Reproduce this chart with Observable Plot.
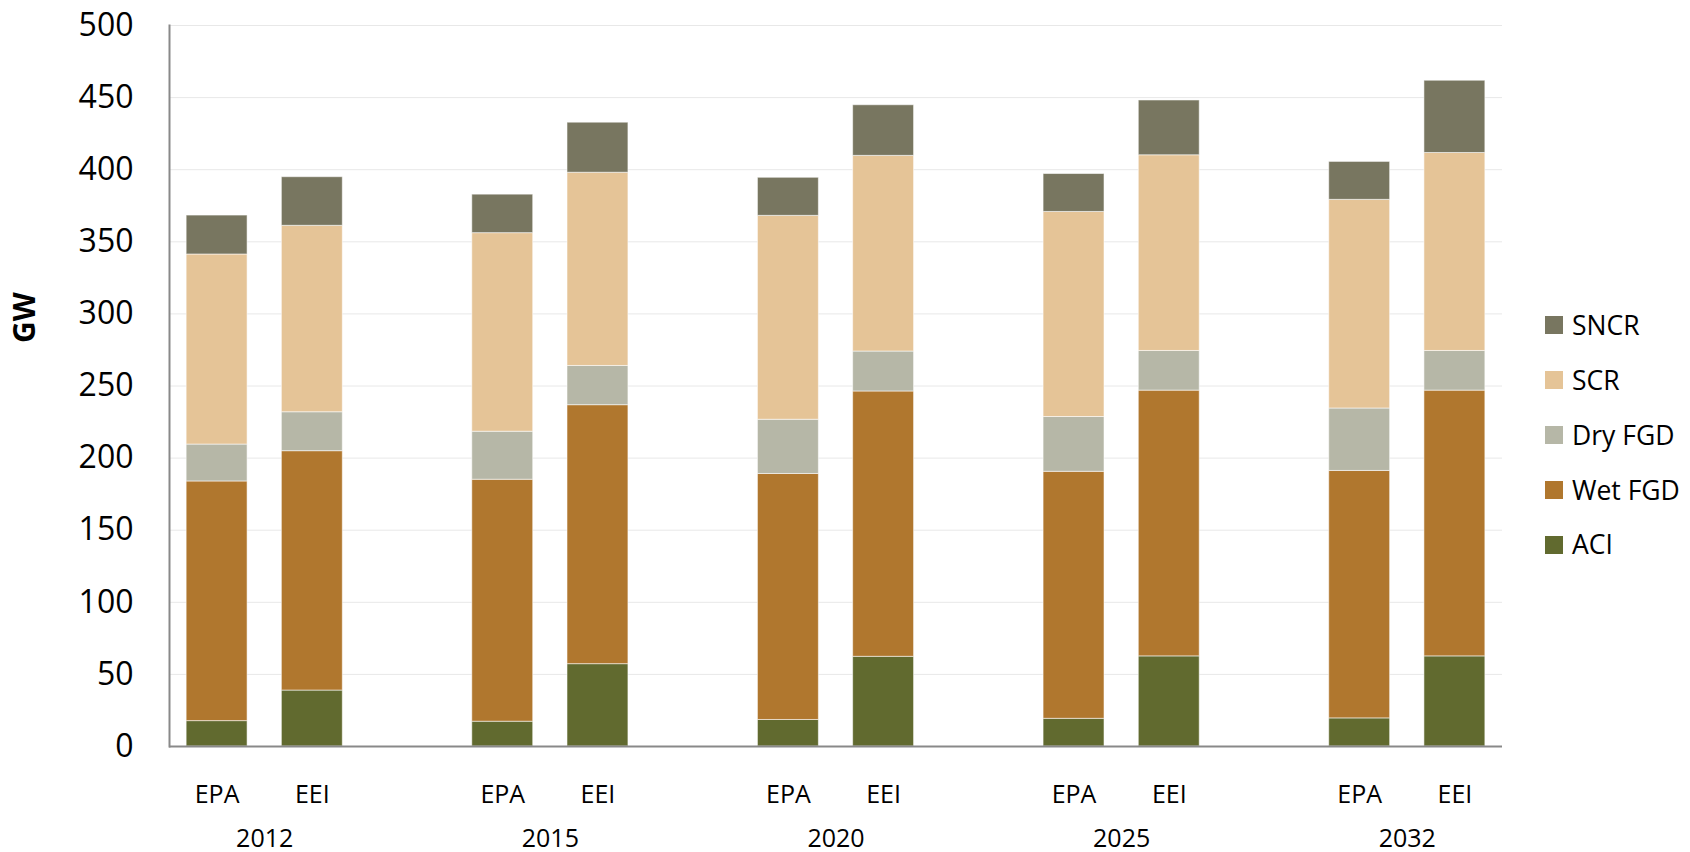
<!DOCTYPE html>
<html>
<head>
<meta charset="utf-8">
<script src="https://cdn.jsdelivr.net/npm/d3@7"></script>
<script src="https://cdn.jsdelivr.net/npm/@observablehq/plot@0.6"></script>
<style>
  html, body { margin: 0; padding: 0; background: #fff; }
  #wrap { position: relative; width: 1690px; height: 852px; font-family: "Open Sans", sans-serif; }
  #legend { position: absolute; left: 1545px; top: 298px; }
  .item { display: flex; align-items: center; height: 54.8px; margin-top: 0; }
  .sw { width: 18px; height: 18px; margin-right: 9px; flex: none; }
  .lab { font-size: 26.5px; color: #000; line-height: 1; white-space: nowrap; }
</style>
</head>
<body>
<div id="wrap"></div>
<script>
// ---- data ----
const years = ["2012", "2015", "2020", "2025", "2032"];
const sources = ["EPA", "EEI"];
const techs = ["ACI", "Wet FGD", "Dry FGD", "SCR", "SNCR"];
const yTicks = [0, 50, 100, 150, 200, 250, 300, 350, 400, 450, 500];

const aciEPA    = [17.6, 17.2, 18.4, 19.2, 19.5];
const aciEEI    = [38.8, 57.1, 62.2, 62.5, 62.5];
const wetEPA    = [166.2, 167.8, 170.6, 171.3, 171.6];
const wetEEI    = [166.0, 179.6, 184.0, 184.3, 184.3];
const dryEPA    = [25.6, 33.3, 37.6, 38.0, 43.3];
const dryEEI    = [27.0, 27.2, 27.7, 27.5, 27.5];
const scrEPA    = [131.8, 137.7, 141.4, 142.2, 144.7];
const scrEEI    = [129.3, 134.0, 135.7, 135.7, 137.3];
const sncrEPA   = [27.0, 26.7, 26.4, 26.3, 26.3];
const sncrEEI   = [33.7, 34.7, 35.1, 38.0, 50.1];

const colors = ["#616a2f", "#b0772e", "#b6b7a7", "#e5c497", "#787660"];

// ---- build table ----
const series = {
  "ACI": {EPA: aciEPA, EEI: aciEEI},
  "Wet FGD": {EPA: wetEPA, EEI: wetEEI},
  "Dry FGD": {EPA: dryEPA, EEI: dryEEI},
  "SCR": {EPA: scrEPA, EEI: scrEEI},
  "SNCR": {EPA: sncrEPA, EEI: sncrEEI}
};
const data = [];
techs.forEach(t => years.forEach((y, i) => sources.forEach(s => {
  data.push({slot: `${y} ${s}`, year: y, source: s, tech: t, value: series[t][s][i]});
})));

// category slots: EPA, EEI, blank, EPA, EEI, blank, ...
const slots = [];
years.forEach((y, i) => {
  sources.forEach(s => slots.push(`${y} ${s}`));
  if (i < years.length - 1) slots.push(`gap ${y}`);
});
const labelSlots = slots.filter(s => !s.startsWith("gap"));

const W = 1690, H = 852, mL = 169, mR = 188, mT = 25, mB = 106;
const step = (W - mL - mR) / slots.length;
const font = "Open Sans";

const chart = Plot.plot({
  width: W, height: H,
  marginLeft: mL, marginRight: mR, marginTop: mT, marginBottom: mB,
  style: {fontFamily: font, color: "#000", background: "#fff", overflow: "visible"},
  x: {domain: slots, paddingInner: 0.36, paddingOuter: 0.18, round: false, axis: null},
  y: {domain: [0, 500], axis: null},
  color: {domain: techs, range: colors},
  marks: [
    Plot.gridY(yTicks.filter(v => v > 0), {stroke: "#e8e8e8", strokeOpacity: 1, strokeWidth: 1}),
    Plot.barY(data, {x: "slot", y: "value", fill: "tech", order: techs, stroke: "#ffffff", strokeOpacity: 0.55, strokeWidth: 1}),
    Plot.ruleY([0], {stroke: "#898989", strokeWidth: 2}),
    Plot.frame({anchor: "left", stroke: "#898989", strokeWidth: 2}),
    Plot.axisY(yTicks, {tickSize: 0, tickPadding: 36, fontSize: 32, label: null, fill: "#000"}),
    Plot.axisX(labelSlots, {tickSize: 0, tickPadding: 39, fontSize: 25, label: null, fill: "#000",
      tickFormat: d => d.split(" ")[1]}),
    Plot.text(years, {x: d => `${d} EEI`, frameAnchor: "bottom", dx: -step / 2, dy: 100,
      text: d => d, fontSize: 25, fill: "#000"}),
    Plot.text(["GW"], {frameAnchor: "left", rotate: -90, dx: -144, dy: -43, fontSize: 30,
      fontWeight: "bold", fill: "#000"})
  ]
});

const wrap = document.getElementById("wrap");
wrap.appendChild(chart);

// legend (right side, top series first)
const colorScale = chart.scale("color");
const legend = document.createElement("div");
legend.id = "legend";
techs.slice().reverse().forEach(t => {
  const idx = colorScale.domain.indexOf(t);
  const item = document.createElement("div");
  item.className = "item";
  const sw = document.createElement("span");
  sw.className = "sw";
  sw.style.background = colorScale.range[idx];
  const lab = document.createElement("span");
  lab.className = "lab";
  lab.textContent = t;
  item.appendChild(sw); item.appendChild(lab);
  legend.appendChild(item);
});
wrap.appendChild(legend);
</script>
</body>
</html>
